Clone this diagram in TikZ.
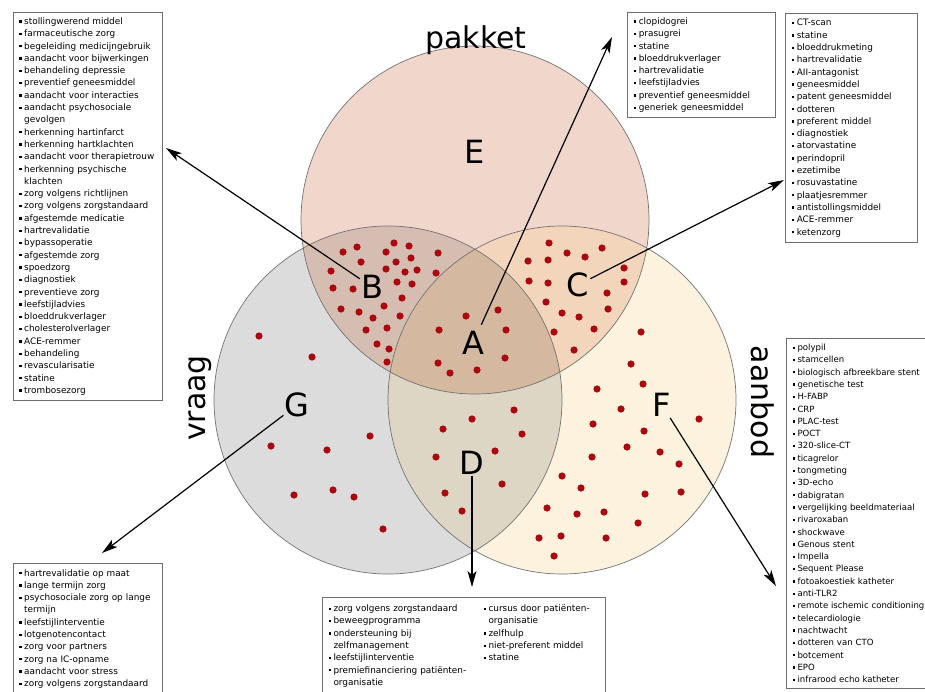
\documentclass[tikz,border=0pt]{standalone}
\usepackage{fontspec}
\setmainfont{DejaVu Sans}
\usetikzlibrary{arrows.meta, positioning}

\definecolor{pakketfill}{RGB}{240,214,203}
\definecolor{vraagfill}{RGB}{220,220,220}
\definecolor{aanbodfill}{RGB}{252,242,222}
\definecolor{bfill}{RGB}{214,189,178}
\definecolor{cfill}{RGB}{242,213,186}
\definecolor{dfill}{RGB}{221,214,196}
\definecolor{afill}{RGB}{212,185,160}
\definecolor{dotred}{RGB}{170,10,15}
\definecolor{boxline}{RGB}{110,110,110}

\newcommand{\blt}{\makebox[5pt][l]{\rule[1.7pt]{2.3pt}{2.3pt}}}
\newcommand{\cont}{\hspace*{5pt}}

\begin{document}
\begin{tikzpicture}[x=1pt, y=-1pt,
    region/.style={draw=gray!90!black, line width=0.7pt},
    lbl/.style={font=\fontsize{32}{32}\selectfont, inner sep=1pt},
    setname/.style={font=\fontsize{30}{30}\selectfont, inner sep=0pt},
    listbox/.style={draw=boxline, line width=1pt, fill=white, anchor=north west, align=left, inner xsep=6pt, inner ysep=5.5pt, font=\fontsize{8.9}{12.3}\selectfont},
    arrow/.style={-{Stealth[length=16pt,width=9pt,inset=4pt]}, line width=1.2pt}
]
\useasboundingbox (0,0) rectangle (925,691);

% the three sets
\coordinate (pc) at (475,220);
\coordinate (vc) at (388,400);
\coordinate (ac) at (562,400);

\fill[pakketfill] (pc) circle[radius=174];
\fill[vraagfill] (vc) circle[radius=174];
\fill[aanbodfill] (ac) circle[radius=174];
\begin{scope}
  \clip (vc) circle[radius=174];
  \fill[dfill] (ac) circle[radius=174];
\end{scope}
\begin{scope}
  \clip (pc) circle[radius=174];
  \fill[bfill] (vc) circle[radius=174];
  \fill[cfill] (ac) circle[radius=174];
  \clip (vc) circle[radius=174];
  \fill[afill] (ac) circle[radius=174];
\end{scope}
\draw[region] (pc) circle[radius=174];
\draw[region] (vc) circle[radius=174];
\draw[region] (ac) circle[radius=174];

% dots
\foreach \p in {(343,252),(357,247),(394,243),(409,246),(386,252),(361,262),(396,262),(411,258),(438,253),(331,271),(386,269),(405,272),(417,270),(436,273),(333,288),(353,289),(397,282),(412,284),(402,298),(341,309),(359,312),(384,306),(373,318),(400,316),(366,330),(387,328),(377,344),(389,349),(387,362),
  (466,316),(439,330),(438,363),(450,373),(498,310),(506,330),(505,358),(477,370),
  (549,243),(567,253),(585,257),(602,248),(528,261),(548,260),(624,268),(529,281),(548,283),(624,282),(607,293),(546,302),(608,309),(562,313),(579,317),(594,329),(554,332),(574,350),
  (472,419),(514,410),(443,429),(522,434),(436,457),(495,451),(502,484),(445,493),(462,511),
  (641,332),(631,364),(597,389),(643,384),(621,409),(699,419),(593,424),(644,431),(627,447),(660,452),(592,457),(679,464),(562,476),(581,488),(645,494),(681,492),(547,508),(577,514),(604,512),(638,523),(539,538),(561,536),(606,538),(554,556),
  (259,336),(312,357),(271,446),(327,450),(370,436),(294,495),(333,490),(354,497),(383,529)}
  \fill[dotred] \p circle[radius=3.6];

% set names
\node[setname] (pakket) at (476,40) {pakket};
\node[setname, rotate=90] (vraag) at (200,398) {vraag};
\node[setname, rotate=-90] (aanbod) at (763,402) {aanbod};

% region labels
\node[lbl] (E) at (475,152) {E};
\node[lbl] (B) at (372,287) {B};
\node[lbl] (C) at (578,285) {C};
\node[lbl] (A) at (473,343) {A};
\node[lbl] (D) at (472,463) {D};
\node[lbl] (F) at (662,405) {F};
\node[lbl] (G) at (297,405) {G};

% lists
\node[listbox, text width=137pt] (listB) at (12.7,11.7) {%
\blt stollingwerend middel\\
\blt farmaceutische zorg\\
\blt begeleiding medicijngebruik\\
\blt aandacht voor bijwerkingen\\
\blt behandeling depressie\\
\blt preventief geneesmiddel\\
\blt aandacht voor interacties\\
\blt aandacht psychosociale\\
\cont gevolgen\\
\blt herkenning hartinfarct\\
\blt herkenning hartklachten\\
\blt aandacht voor therapietrouw\\
\blt herkenning psychische\\
\cont klachten\\
\blt zorg volgens richtlijnen\\
\blt zorg volgens zorgstandaard\\
\blt afgestemde medicatie\\
\blt hartrevalidatie\\
\blt bypassoperatie\\
\blt afgestemde zorg\\
\blt spoedzorg\\
\blt diagnostiek\\
\blt preventieve zorg\\
\blt leefstijladvies\\
\blt bloeddrukverlager\\
\blt cholesterolverlager\\
\blt ACE-remmer\\
\blt behandeling\\
\blt revascularisatie\\
\blt statine\\
\blt trombosezorg};

\node[listbox, text width=136pt] (listA) at (627.3,11.7) {%
\blt clopidogrei\\
\blt prasugrei\\
\blt statine\\
\blt bloeddrukverlager\\
\blt hartrevalidatie\\
\blt leefstijladvies\\
\blt preventief geneesmiddel\\
\blt generiek geneesmiddel};

\node[listbox, text width=120pt] (listC) at (785.3,13.3) {%
\blt CT-scan\\
\blt statine\\
\blt bloeddrukmeting\\
\blt hartrevalidatie\\
\blt AII-antagonist\\
\blt geneesmiddel\\
\blt patent geneesmiddel\\
\blt dotteren\\
\blt preferent middel\\
\blt diagnostiek\\
\blt atorvastatine\\
\blt perindopril\\
\blt ezetimibe\\
\blt rosuvastatine\\
\blt plaatjesremmer\\
\blt antistollingsmiddel\\
\blt ACE-remmer\\
\blt ketenzorg};

\node[listbox, text width=150pt, font=\fontsize{8.55}{12.3}\selectfont] (listF) at (786,338) {%
\blt polypil\\
\blt stamcellen\\
\blt biologisch afbreekbare stent\\
\blt genetische test\\
\blt H-FABP\\
\blt CRP\\
\blt PLAC-test\\
\blt POCT\\
\blt 320-slice-CT\\
\blt ticagrelor\\
\blt tongmeting\\
\blt 3D-echo\\
\blt dabigratan\\
\blt vergelijking beeldmateriaal\\
\blt rivaroxaban\\
\blt shockwave\\
\blt Genous stent\\
\blt Impella\\
\blt Sequent Please\\
\blt fotoakoestiek katheter\\
\blt anti-TLR2\\
\blt remote ischemic conditioning\\
\blt telecardiologie\\
\blt nachtwacht\\
\blt dotteren van CTO\\
\blt botcement\\
\blt EPO\\
\blt infrarood echo katheter};

\node[listbox, text width=137pt] (listG) at (12.7,563.3) {%
\blt hartrevalidatie op maat\\
\blt lange termijn zorg\\
\blt psychosociale zorg op lange\\
\cont termijn\\
\blt leefstijlinterventie\\
\blt lotgenotencontact\\
\blt zorg voor partners\\
\blt zorg na IC-opname\\
\blt aandacht voor stress\\
\blt zorg volgens zorgstandaard};

\node[listbox, text width=271pt] (listD) at (322,597) {%
\begin{tabular}{@{}p{155pt}@{}l@{}}
\blt zorg volgens zorgstandaard & \blt cursus door patiënten-\\
\blt beweegprogramma & \cont organisatie\\
\blt ondersteuning bij & \blt zelfhulp\\
\cont zelfmanagement & \blt niet-preferent middel\\
\blt leefstijlinterventie & \blt statine\\
\blt premiefinanciering patiënten- & \\
\cont organisatie & \\
\end{tabular}};

% connectors
\coordinate (endB) at (166,148);
\coordinate (endA) at (612,37);
\coordinate (endC) at (784,180);
\coordinate (endD) at (472,587);
\coordinate (endF) at (776,586);
\coordinate (endG) at (102,553);

\draw[arrow] (B) -- (endB);
\draw[arrow, shorten <=6pt] (A) -- (endA);
\draw[arrow] (C) -- (endC);
\draw[arrow] (D) -- (endD);
\draw[arrow] (F) -- (endF);
\draw[arrow] (G) -- (endG);

\end{tikzpicture}
\end{document}
